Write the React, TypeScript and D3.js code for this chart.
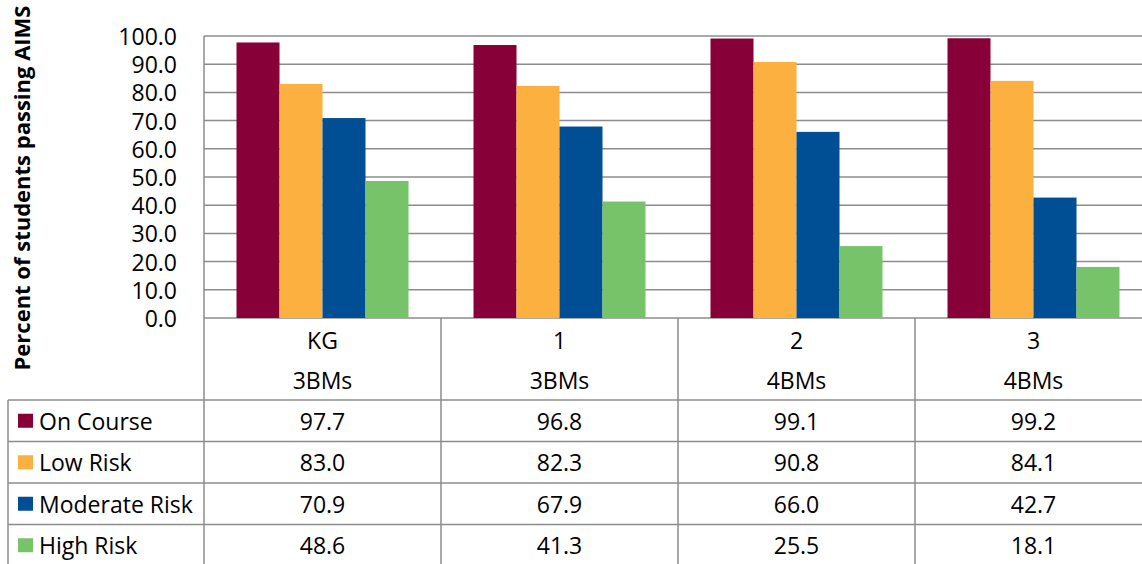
import React from "react";
import * as d3 from "d3";

const categories = ["KG", "1", "2", "3"];
const subLabels = ["3BMs", "3BMs", "4BMs", "4BMs"];
const seriesNames = ["On Course", "Low Risk", "Moderate Risk", "High Risk"];
const onCourse = [97.7, 96.8, 99.1, 99.2];
const lowRisk = [83.0, 82.3, 90.8, 84.1];
const moderateRisk = [70.9, 67.9, 66.0, 42.7];
const highRisk = [48.6, 41.3, 25.5, 18.1];
const yTicks = [0, 10, 20, 30, 40, 50, 60, 70, 80, 90, 100];
const colors = ["#870037", "#FBB040", "#004E94", "#77C36A"];

const series = [onCourse, lowRisk, moderateRisk, highRisk];

const W = 1142;
const H = 564;
const FONT = "'Open Sans', sans-serif";

export default function App() {
  const plotLeft = 204;
  const bandW = 237;
  const x = d3
    .scaleBand<string>()
    .domain(categories)
    .range([plotLeft, plotLeft + bandW * categories.length])
    .paddingInner(0)
    .paddingOuter(0);
  const y = d3.scaleLinear().domain([0, 100]).range([318, 36]);
  const groupPad = 32.5;
  const xs = d3
    .scaleBand<number>()
    .domain(seriesNames.map((_, i) => i))
    .range([groupPad, bandW - groupPad]);

  const headerBottom = 400;
  const rowH = 41.5;
  const tableLeft = 8;
  const gridColor = "#8c8c8c";
  const fs = 23;

  return (
    <svg
      width={W}
      height={H}
      style={{ position: "absolute", left: 0, top: 0, display: "block" }}
      fontFamily={FONT}
    >
      <rect width={W} height={H} fill="#fff" />
      {yTicks.map((t) => (
        <line
          key={t}
          x1={plotLeft}
          x2={W}
          y1={y(t)}
          y2={y(t)}
          stroke={gridColor}
          strokeWidth={1.5}
        />
      ))}
      {yTicks.map((t) => (
        <text
          key={"l" + t}
          x={177}
          y={y(t)}
          textAnchor="end"
          dominantBaseline="central"
          fontSize={fs}
          fill="#000"
        >
          {t.toFixed(1)}
        </text>
      ))}
      {categories.map((c, ci) =>
        series.map((s, si) => (
          <rect
            key={c + si}
            x={(x(c) as number) + (xs(si) as number)}
            y={y(s[ci])}
            width={xs.bandwidth()}
            height={y(0) - y(s[ci])}
            fill={colors[si]}
          />
        ))
      )}
      <text
        transform={`translate(21,188) rotate(-90)`}
        textAnchor="middle"
        dominantBaseline="central"
        fontSize={22}
        fontWeight="bold"
        fill="#000"
      >
        Percent of students passing AIMS
      </text>
      <line x1={plotLeft} x2={plotLeft} y1={36} y2={H} stroke={gridColor} strokeWidth={1.5} />
      {categories.slice(1).map((c) => (
        <line
          key={"v" + c}
          x1={x(c) as number}
          x2={x(c) as number}
          y1={318}
          y2={H}
          stroke={gridColor}
          strokeWidth={1.5}
        />
      ))}
      <line x1={tableLeft} x2={tableLeft} y1={headerBottom} y2={H} stroke={gridColor} strokeWidth={1.5} />
      {seriesNames.map((_, i) => (
        <line
          key={"h" + i}
          x1={tableLeft}
          x2={W}
          y1={headerBottom + i * rowH}
          y2={headerBottom + i * rowH}
          stroke={gridColor}
          strokeWidth={1.5}
        />
      ))}
      {categories.map((c, ci) => (
        <g key={"hd" + c}>
          <text
            x={(x(c) as number) + bandW / 2}
            y={340}
            textAnchor="middle"
            dominantBaseline="central"
            fontSize={fs}
          >
            {c}
          </text>
          <text
            x={(x(c) as number) + bandW / 2}
            y={380}
            textAnchor="middle"
            dominantBaseline="central"
            fontSize={fs}
          >
            {subLabels[ci]}
          </text>
        </g>
      ))}
      {seriesNames.map((name, si) => {
        const cy = headerBottom + si * rowH + rowH / 2;
        return (
          <g key={"row" + si}>
            <rect x={18} y={cy - 7} width={15} height={14} fill={colors[si]} />
            <text x={39} y={cy} dominantBaseline="central" fontSize={fs}>
              {name}
            </text>
            {categories.map((c, ci) => (
              <text
                key={"v" + c}
                x={(x(c) as number) + bandW / 2}
                y={cy}
                textAnchor="middle"
                dominantBaseline="central"
                fontSize={fs}
              >
                {series[si][ci].toFixed(1)}
              </text>
            ))}
          </g>
        );
      })}
    </svg>
  );
}
